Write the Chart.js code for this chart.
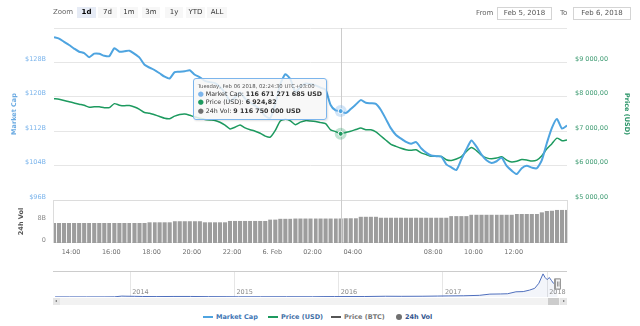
<!DOCTYPE html>
<html lang="en">
<head>
<meta charset="utf-8">
<title>Bitcoin: market cap, price and 24h volume</title>
<script src="https://cdn.jsdelivr.net/npm/chart.js@4.4.1/dist/chart.umd.min.js"></script>
<style>
  html, body { margin: 0; padding: 0; background: #fff; }
  body { font-family: "DejaVu Sans", sans-serif; }
  #wrap { position: relative; width: 640px; height: 326px; overflow: hidden; }
  #wrap canvas { position: absolute; left: 0; }
  .zoom-label { position: absolute; left: 53px; top: 7px; font-size: 7px; line-height: 11px; color: #666; }
  .range-btn { position: absolute; top: 7px; height: 11px; line-height: 11px; font-size: 7px; color: #333; text-align: center; background: #f7f7f7; }
  .range-btn.on { background: #e6ebf5; font-weight: bold; color: #000; }
  .date-label { position: absolute; top: 7px; font-size: 7px; line-height: 12px; color: #666; }
  .date-box { position: absolute; top: 7px; height: 11px; line-height: 11px; border: 1px solid #d4d4d4; font-size: 7px; color: #555; text-align: center; }
  #tip { position: absolute; display: none; background: rgba(247,247,247,0.85); border: 1px solid #7cb5ec; border-radius: 3px;
         box-shadow: 1px 1px 2px rgba(0,0,0,0.12); padding: 3px 4px 4px 4px; color: #333; white-space: nowrap; pointer-events: none; }
  #tip .t { font-size: 5.3px; line-height: 8px; color: #555; }
  #tip .r { font-size: 6.3px; line-height: 8.3px; }
  #tip .d { font-size: 7px; }
  .scroll-track { position: absolute; left: 53px; top: 298px; width: 514px; height: 7px; background: #f2f2f2; }
  .scroll-btn { position: absolute; top: 298px; width: 7px; height: 7px; background: #e6e6e6; }
  .scroll-btn i { position: absolute; top: 2px; width: 0; height: 0; border-top: 1.5px solid transparent; border-bottom: 1.5px solid transparent; }
  .scroll-thumb { position: absolute; left: 548px; top: 298px; width: 11px; height: 7px; background: #cccccc; }
  .lg-line { position: absolute; top: 316px; width: 10px; height: 2px; }
  .lg-dot { position: absolute; top: 314px; width: 6px; height: 6px; border-radius: 50%; background: #707070; }
  .lg-text { position: absolute; top: 313px; font-size: 6.5px; line-height: 9px; font-weight: bold; }
</style>
</head>
<body>
<div id="wrap">
  <canvas id="mainChart" width="640" height="262" style="top:0"></canvas>
  <canvas id="navChart" width="640" height="36" style="top:262px"></canvas>

  <div class="zoom-label">Zoom</div>
  <div class="range-btn on" style="left:77px;width:19px">1d</div>
  <div class="range-btn" style="left:98px;width:19px">7d</div>
  <div class="range-btn" style="left:120px;width:18px">1m</div>
  <div class="range-btn" style="left:142px;width:18px">3m</div>
  <div class="range-btn" style="left:165px;width:18px">1y</div>
  <div class="range-btn" style="left:186px;width:19px">YTD</div>
  <div class="range-btn" style="left:207px;width:20px">ALL</div>

  <div class="date-label" style="left:476px">From</div>
  <div class="date-box" style="left:497px;width:53px">Feb 5, 2018</div>
  <div class="date-label" style="left:560px">To</div>
  <div class="date-box" style="left:573px;width:56px">Feb 6, 2018</div>

  <div class="scroll-track"></div>
  <div class="scroll-thumb"></div>
  <div class="scroll-btn" style="left:53px"><i style="left:2px;border-right:2.5px solid #666"></i></div>
  <div class="scroll-btn" style="left:560px"><i style="left:3px;border-left:2.5px solid #666"></i></div>

  <div class="lg-line" style="left:203px;background:#4ea4e0"></div>
  <div class="lg-text" style="left:216px;color:#3f77b6">Market Cap</div>
  <div class="lg-line" style="left:268px;background:#1d9a5f"></div>
  <div class="lg-text" style="left:281px;color:#3f6fa6">Price (USD)</div>
  <div class="lg-line" style="left:331px;background:#555"></div>
  <div class="lg-text" style="left:344px;color:#777">Price (BTC)</div>
  <div class="lg-dot" style="left:396px"></div>
  <div class="lg-text" style="left:405px;color:#34568f">24h Vol</div>

  <div id="tip"></div>
</div>

<script>
// one point every 15 minutes, hours counted from Feb 5 00:00
const startHour = 13.15;
const stepHour = 0.25;

// market cap, billions USD
const marketCap = [
  133.85, 133.54, 132.79, 132.04, 131.22, 130.48, 130.17, 129.21, 130.03, 130.01,
  129.54, 129.45, 131.30, 130.48, 130.57, 130.73, 129.99, 129.10, 127.44, 126.78,
  126.22, 125.47, 124.68, 124.26, 125.75, 125.82, 125.94, 126.17, 125.12, 124.54,
  123.69, 123.41, 123.20, 122.31, 120.89, 119.06, 119.86, 120.98, 119.55, 118.67,
  117.94, 116.91, 115.53, 115.04, 118.34, 122.97, 125.24, 124.07, 121.14, 122.31,
  123.11, 122.97, 122.66, 122.13, 121.64, 118.10, 116.82, 116.671271685, 116.23, 117.17,
  118.20, 119.23, 118.62, 118.50, 118.36, 116.93, 114.81, 112.65, 111.11, 110.27,
  109.50, 109.07, 109.47, 108.05, 107.02, 106.34, 106.20, 106.10, 104.30, 103.58,
  102.97, 105.45, 107.81, 109.85, 108.40, 106.55, 105.26, 104.63, 105.01, 105.85,
  103.91, 102.83, 102.03, 103.39, 103.95, 103.53, 103.37, 105.29, 109.26, 112.77,
  114.83, 112.61, 113.31
];

// price, USD
const priceUsd = [
  7947, 7927, 7895, 7857, 7822, 7784, 7754, 7696, 7711, 7711,
  7684, 7684, 7801, 7757, 7740, 7749, 7705, 7637, 7544, 7523,
  7477, 7427, 7374, 7363, 7439, 7485, 7500, 7462, 7412, 7377,
  7342, 7325, 7313, 7260, 7175, 7067, 7114, 7181, 7096, 7044,
  7000, 6939, 6857, 6827, 7023, 7298, 7345, 7301, 7190, 7263,
  7307, 7298, 7281, 7249, 7219, 7040, 6988, 6924.82, 6965, 7000,
  7047, 7091, 7041, 7044, 6982, 6860, 6737, 6617, 6558, 6503,
  6462, 6444, 6459, 6371, 6322, 6272, 6269, 6263, 6170, 6146,
  6190, 6260, 6412, 6526, 6436, 6301, 6225, 6196, 6219, 6257,
  6161, 6105, 6126, 6175, 6164, 6132, 6158, 6287, 6488, 6637,
  6798, 6725, 6746
];

// 24h volume, billions USD
const volume24h = [
  7.45, 7.45, 7.45, 7.45, 7.45, 7.45, 7.45, 7.45, 7.45, 7.45,
  7.45, 7.45, 7.45, 7.45, 7.45, 7.45, 7.45, 7.45, 7.45, 7.7,
  7.7, 7.7, 7.7, 7.7, 8.1, 8.1, 8.1, 8.1, 8.1, 8.1,
  7.7, 7.7, 7.7, 7.7, 7.7, 8.2, 8.2, 8.2, 8.2, 8.2,
  8.2, 8.2, 8.2, 8.7, 8.7, 9.0, 9.0, 9.0, 9.1, 9.1,
  9.1, 9.1, 9.1, 9.1, 9.1, 9.1, 9.1, 9.11675, 9.2, 9.2,
  9.2, 9.75, 9.75, 9.75, 9.75, 9.4, 9.4, 9.4, 9.4, 9.4,
  9.4, 9.4, 9.4, 9.4, 9.4, 9.4, 9.4, 9.4, 9.4, 10.0,
  10.0, 10.0, 10.0, 10.5, 10.5, 10.5, 10.5, 10.5, 10.5, 10.5,
  10.5, 10.5, 10.8, 10.8, 10.8, 10.8, 10.8, 11.4, 11.9, 12.0,
  12.3, 12.3, 12.3
];

const tickHours = [14, 16, 18, 20, 22, 24, 26, 28, 32, 34, 36];
const tickLabels = ['14:00', '16:00', '18:00', '20:00', '22:00', '6. Feb', '02:00', '04:00', '08:00', '10:00', '12:00'];

// point under the crosshair
const hoverIndex = 57;
const hoverTitle = 'Tuesday, Feb 06 2018, 02:24:30 UTC+03:00';

// navigator: whole history of the market cap, billions USD
const navYears = [
  2013.28, 2013.42, 2013.58, 2013.75, 2013.85, 2013.92, 2013.96,
  2014.04, 2014.12, 2014.25, 2014.42, 2014.58, 2014.75, 2014.92,
  2015.04, 2015.25, 2015.5, 2015.75, 2015.85, 2015.96,
  2016.08, 2016.25, 2016.45, 2016.6, 2016.8, 2016.95,
  2017.05, 2017.2, 2017.35, 2017.45, 2017.55, 2017.62, 2017.7, 2017.77, 2017.83, 2017.88, 2017.92, 2017.96, 2017.98,
  2018.0, 2018.02, 2018.04, 2018.06, 2018.08, 2018.1
];
const navMarketCap = [
  1.5, 1.2, 1.1, 1.4, 2.5, 12.5, 11,
  9.5, 7, 6, 7.5, 7.5, 5, 4.5,
  3, 3.3, 3.8, 3.5, 5.5, 6.2,
  6.2, 6.6, 10.5, 9.5, 10.5, 13,
  15, 17, 23, 40, 42, 45, 72, 75, 95, 120, 190, 320, 270,
  240, 270, 230, 190, 180, 117
];
const navYearTicks = [2014, 2015, 2016, 2017, 2018];
const navSelection = [2018.0974, 2018.1003];

Chart.defaults.font.family = '"DejaVu Sans", sans-serif';
Chart.defaults.font.size = 6.5;

const capColor = '#4ea4e0';
const priceColor = '#1d9a5f';
const volColor = '#9d9d9d';
const haloColors = ['rgba(124,181,236,0.35)', 'rgba(29,154,95,0.28)'];

const hours = marketCap.map((_, i) => startHour + i * stepHour);

function groupDigits(n) {
  return String(n).replace(/\B(?=(\d{3})+(?!\d))/g, ' ');
}
function formatPrice(v) {
  const parts = v.toFixed(2).split('.');
  return groupDigits(parts[0]) + ',' + parts[1];
}

function renderTooltip(context) {
  const { chart, tooltip } = context;
  const tip = document.getElementById('tip');
  if (!tooltip.dataPoints || !tooltip.dataPoints.length) {
    tip.style.display = 'none';
    return;
  }
  const rows = tooltip.dataPoints.map(p => {
    const v = p.raw.y;
    let name, text, dot;
    if (p.datasetIndex === 0) { name = 'Market Cap'; text = groupDigits(Math.round(v * 1e9)) + ' USD'; dot = '#7cb5ec'; }
    else if (p.datasetIndex === 1) { name = 'Price (USD)'; text = formatPrice(v); dot = priceColor; }
    else { name = '24h Vol'; text = groupDigits(Math.round(v * 1e9)) + ' USD'; dot = '#707070'; }
    return '<div class="r"><span class="d" style="color:' + dot + '">\u25CF</span> ' + name + ': <b>' + text + '</b></div>';
  });
  tip.innerHTML = '<div class="t">' + hoverTitle + '</div>' + rows.join('');
  tip.style.display = 'block';
  const canvas = chart.canvas;
  tip.style.left = (canvas.offsetLeft + tooltip.caretX - 14 - tip.offsetWidth) + 'px';
  tip.style.top = (canvas.offsetTop + 78) + 'px';
}

// volume pane frame, hourly gaps in the columns, crosshair and hover halos
const panePlugin = {
  id: 'panes',
  beforeDatasetsDraw(chart) {
    const { ctx, scales: { x, yVol } } = chart;
    ctx.save();
    ctx.strokeStyle = '#dcdcdc';
    ctx.lineWidth = 1;
    ctx.strokeRect(Math.round(x.left) - 0.5, Math.round(yVol.top) + 0.5, Math.round(x.width) + 1, Math.round(yVol.height) - 1);
    ctx.restore();
  },
  afterDatasetsDraw(chart) {
    const { ctx, chartArea, scales: { x, yVol } } = chart;
    ctx.save();
    ctx.strokeStyle = 'rgba(255,255,255,0.85)';
    ctx.lineWidth = 1;
    for (let h = Math.ceil(x.min); h <= x.max; h++) {
      const px = Math.round(x.getPixelForValue(h)) + 0.5;
      ctx.beginPath();
      ctx.moveTo(px, yVol.top + 1);
      ctx.lineTo(px, yVol.bottom);
      ctx.stroke();
    }
    const active = chart.getActiveElements();
    if (active.length) {
      const px = Math.round(active[0].element.x) + 0.5;
      ctx.strokeStyle = '#cccccc';
      ctx.beginPath();
      ctx.moveTo(px, chartArea.top);
      ctx.lineTo(px, chartArea.bottom);
      ctx.stroke();
      active.forEach(a => {
        if (a.datasetIndex > 1) return;
        const { x: ex, y: ey } = a.element;
        ctx.fillStyle = haloColors[a.datasetIndex];
        ctx.beginPath();
        ctx.arc(ex, ey, 6, 0, Math.PI * 2);
        ctx.fill();
        ctx.fillStyle = chart.data.datasets[a.datasetIndex].borderColor;
        ctx.strokeStyle = '#ffffff';
        ctx.lineWidth = 1;
        ctx.beginPath();
        ctx.arc(ex, ey, 2.5, 0, Math.PI * 2);
        ctx.fill();
        ctx.stroke();
      });
    }
    ctx.restore();
  }
};

const mainChart = new Chart(document.getElementById('mainChart'), {
  data: {
    datasets: [
      {
        type: 'line',
        label: 'Market Cap',
        data: hours.map((h, i) => ({ x: h, y: marketCap[i] })),
        yAxisID: 'yCap',
        borderColor: capColor,
        borderWidth: 2,
        pointRadius: 0,
        pointHoverRadius: 0,
        tension: 0.2
      },
      {
        type: 'line',
        label: 'Price (USD)',
        data: hours.map((h, i) => ({ x: h, y: priceUsd[i] })),
        yAxisID: 'yPrice',
        borderColor: priceColor,
        borderWidth: 1.5,
        pointRadius: 0,
        pointHoverRadius: 0,
        tension: 0.2
      },
      {
        type: 'bar',
        label: '24h Vol',
        data: hours.map((h, i) => ({ x: h, y: volume24h[i] })),
        yAxisID: 'yVol',
        backgroundColor: volColor,
        hoverBackgroundColor: volColor,
        barPercentage: 1,
        categoryPercentage: 0.82
      }
    ]
  },
  options: {
    responsive: false,
    animation: false,
    events: [],
    layout: { padding: { top: 28 } },
    plugins: {
      legend: { display: false },
      tooltip: { enabled: false, external: renderTooltip }
    },
    scales: {
      x: {
        type: 'linear',
        min: startHour,
        max: startHour + (marketCap.length - 1) * stepHour,
        offset: false,
        grid: { display: false, drawTicks: false },
        border: { display: false },
        afterBuildTicks: s => { s.ticks = tickHours.map(v => ({ value: v })); },
        afterFit: s => { s.height = 19; },
        ticks: {
          autoSkip: false,
          maxRotation: 0,
          padding: 5,
          color: '#707070',
          callback: v => tickLabels[tickHours.indexOf(v)]
        }
      },
      yVol: {
        type: 'linear',
        position: 'left',
        stack: 'left',
        stackWeight: 1,
        min: 0,
        max: 16,
        grid: { display: false, drawTicks: false },
        border: { display: false },
        afterFit: s => { s.width = 54; },
        ticks: {
          stepSize: 8,
          padding: 8,
          labelOffset: -3,
          color: '#8a8a8a',
          callback: v => (v === 0 ? '0' : v === 8 ? '8B' : '')
        },
        title: { display: true, text: '24h Vol', color: '#555', font: { size: 6.5, weight: 'bold' }, padding: { top: 17, bottom: 0 } }
      },
      yCap: {
        type: 'linear',
        position: 'left',
        stack: 'left',
        stackWeight: 4,
        min: 96,
        max: 136,
        grid: { color: '#e6e6e6', drawTicks: false },
        border: { display: false },
        afterFit: s => { s.width = 54; },
        ticks: {
          stepSize: 8,
          padding: 8,
          labelOffset: -3,
          color: '#7cb5ec',
          callback: v => (v === 136 ? '' : '$' + v + 'B')
        },
        title: { display: true, text: 'Market Cap', color: '#6aaae2', font: { size: 6.5, weight: 'bold' }, padding: { top: 10, bottom: 0 } }
      },
      yPrice: {
        type: 'linear',
        position: 'right',
        stack: 'right',
        stackWeight: 4,
        min: 5000,
        max: 10000,
        grid: { display: false, drawTicks: false },
        border: { display: false },
        afterFit: s => { s.width = 73; },
        ticks: {
          stepSize: 1000,
          padding: 8,
          labelOffset: -3,
          color: '#3f9c73',
          callback: v => (v === 10000 ? '' : '$' + formatPrice(v))
        },
        title: { display: true, text: 'Price (USD)', color: '#2a9467', font: { size: 6.5, weight: 'bold' }, padding: { top: 9, bottom: 0 } }
      },
      yPriceVol: {
        type: 'linear',
        position: 'right',
        stack: 'right',
        stackWeight: 1,
        grid: { display: false, drawTicks: false },
        border: { display: false },
        afterFit: s => { s.width = 73; },
        ticks: { display: false }
      }
    }
  },
  plugins: [panePlugin]
});

const active = [0, 1, 2].map(d => ({ datasetIndex: d, index: hoverIndex }));
mainChart.setActiveElements(active);
mainChart.tooltip.setActiveElements(active, { x: 0, y: 0 });
mainChart.draw();

// navigator outline, year labels and range handle
const navigatorPlugin = {
  id: 'navigatorFrame',
  afterDraw(chart) {
    const { ctx, chartArea, scales: { x } } = chart;
    ctx.save();
    ctx.strokeStyle = '#cccccc';
    ctx.lineWidth = 1;
    ctx.beginPath();
    ctx.moveTo(chartArea.left, Math.round(chartArea.top) + 0.5);
    ctx.lineTo(chartArea.right, Math.round(chartArea.top) + 0.5);
    ctx.stroke();

    ctx.fillStyle = '#8a8a8a';
    ctx.font = '6.5px "DejaVu Sans", sans-serif';
    ctx.textAlign = 'left';
    ctx.textBaseline = 'middle';
    navYearTicks.forEach(t => {
      ctx.fillText(String(t), x.getPixelForValue(t) + 2, chartArea.bottom - 5);
    });

    const mid = (chartArea.top + chartArea.bottom) / 2;
    navSelection.forEach(t => {
      const px = Math.round(x.getPixelForValue(t));
      ctx.fillStyle = '#f2f2f2';
      ctx.strokeStyle = '#999999';
      ctx.fillRect(px - 2.5, mid - 5, 5, 10);
      ctx.strokeRect(px - 2.5, mid - 5, 5, 10);
      ctx.beginPath();
      ctx.moveTo(px - 0.5, mid - 2.5);
      ctx.lineTo(px - 0.5, mid + 2.5);
      ctx.moveTo(px + 1, mid - 2.5);
      ctx.lineTo(px + 1, mid + 2.5);
      ctx.stroke();
    });
    ctx.restore();
  }
};

const navChart = new Chart(document.getElementById('navChart'), {
  type: 'line',
  data: {
    datasets: [{
      data: navYears.map((t, i) => ({ x: t, y: navMarketCap[i] })),
      borderColor: '#4f6fbd',
      borderWidth: 1,
      fill: 'origin',
      backgroundColor: 'rgba(51,92,173,0.06)',
      pointRadius: 0,
      tension: 0
    }]
  },
  options: {
    responsive: false,
    animation: false,
    events: [],
    layout: { padding: { left: 53, right: 73, top: 9, bottom: 0 } },
    plugins: { legend: { display: false }, tooltip: { enabled: false } },
    scales: {
      x: {
        type: 'linear',
        min: 2013.26,
        max: 2018.19,
        grid: { color: '#e6e6e6', drawTicks: false },
        border: { display: false },
        afterBuildTicks: s => { s.ticks = navYearTicks.map(v => ({ value: v })); },
        afterFit: s => { s.height = 1; },
        ticks: { display: false }
      },
      y: { display: false, min: 0, max: 360 }
    }
  },
  plugins: [navigatorPlugin]
});
</script>
</body>
</html>
